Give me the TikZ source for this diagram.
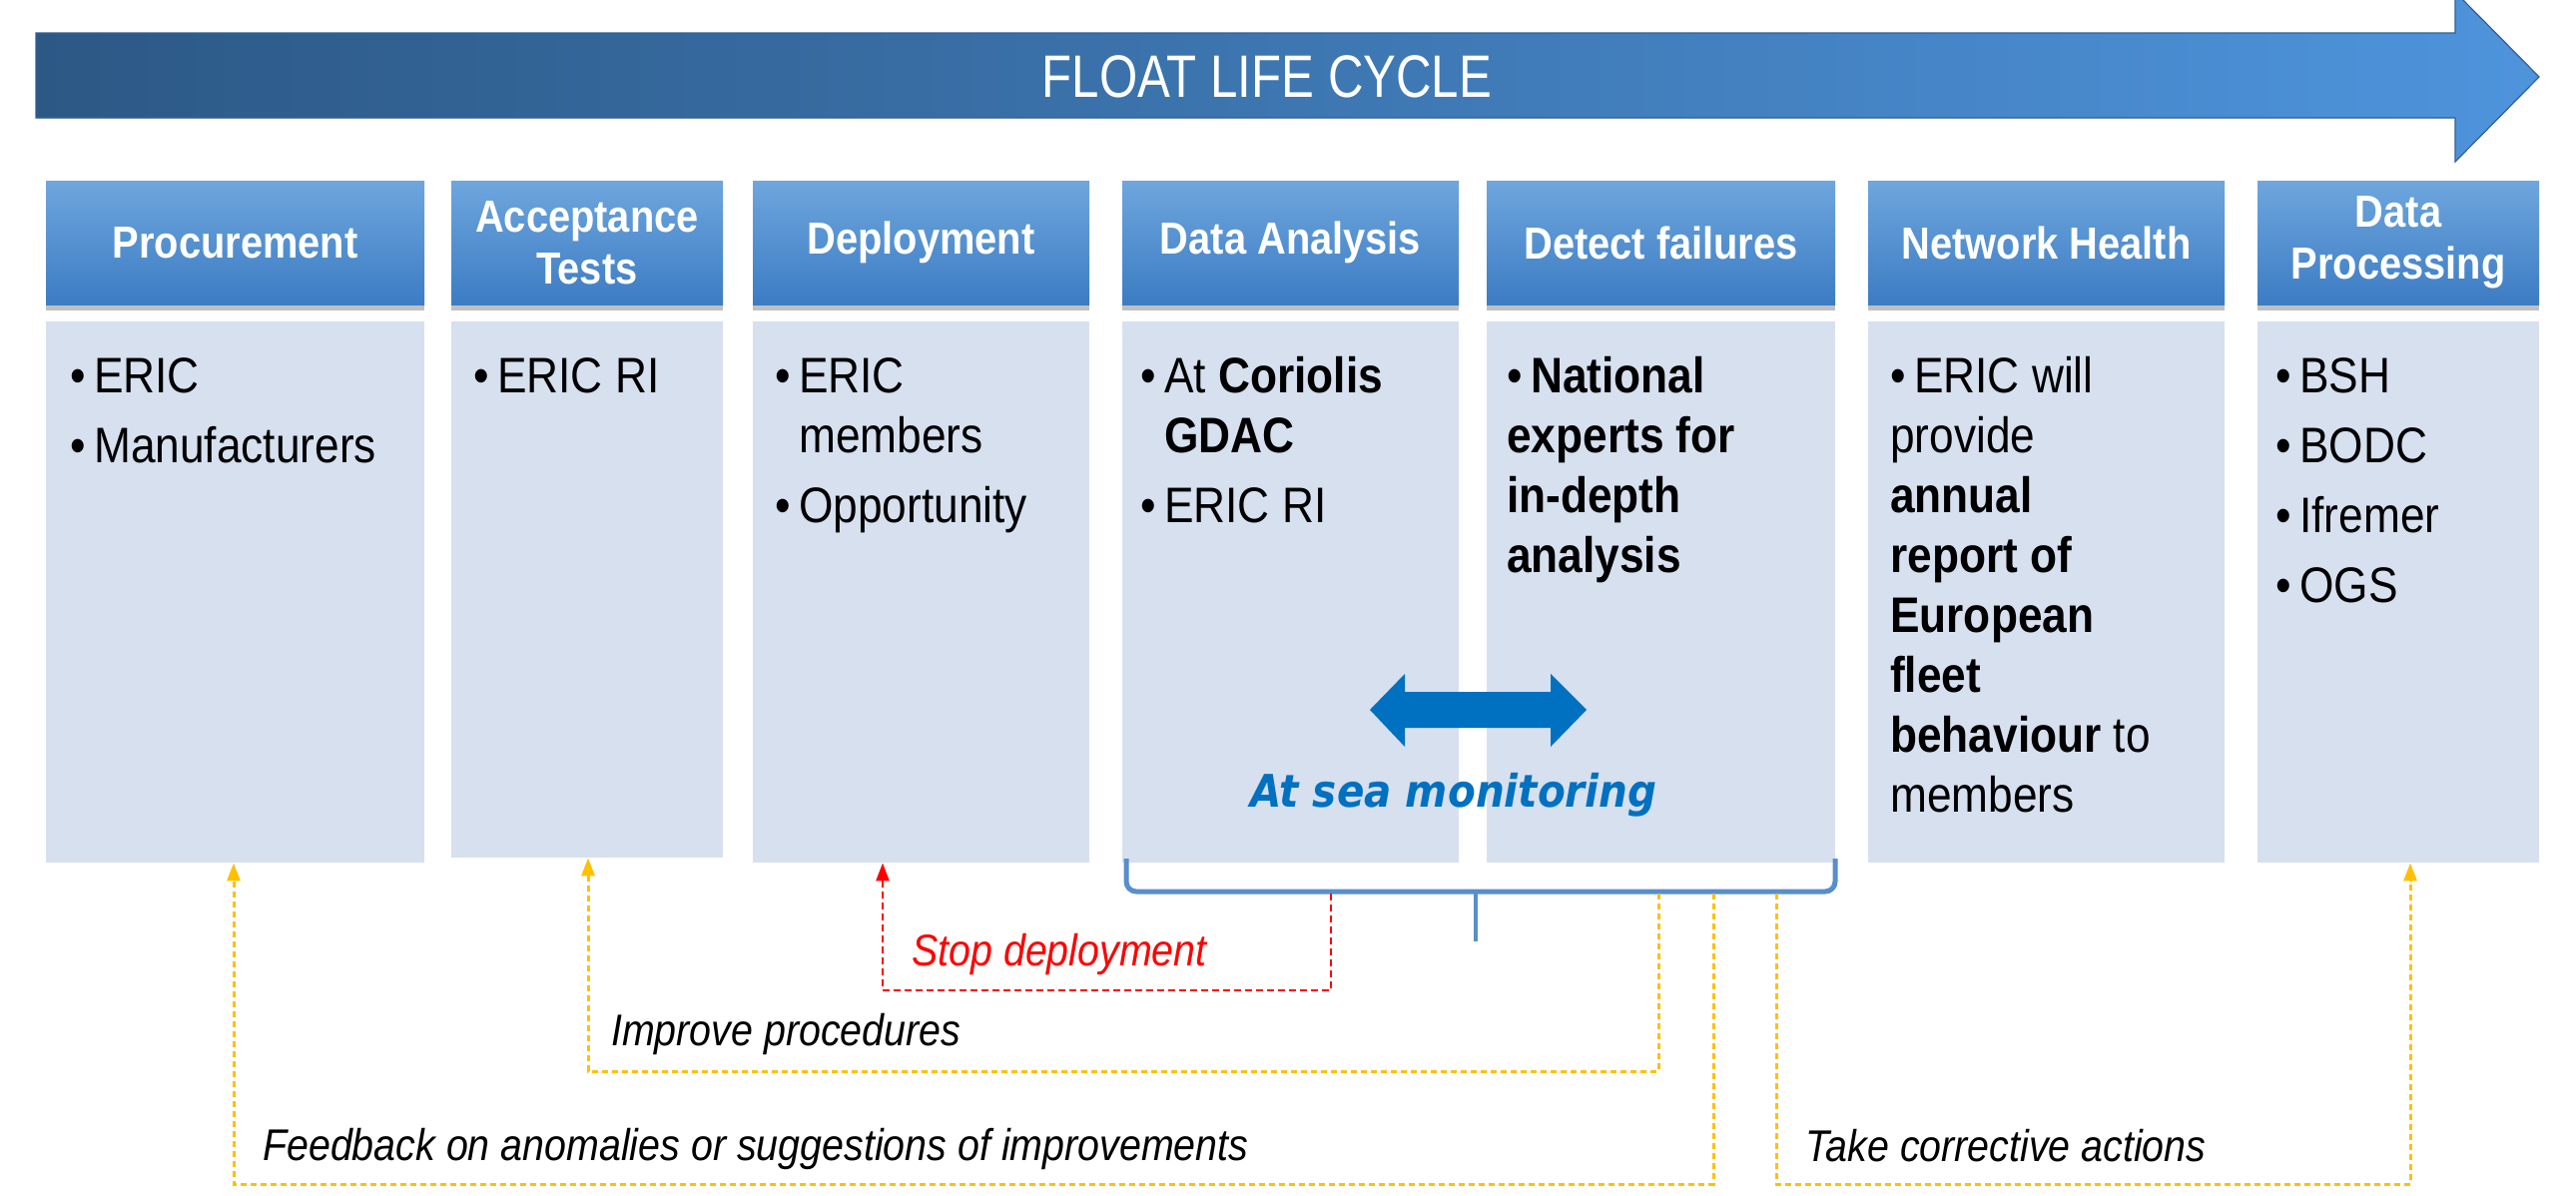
\documentclass[tikz,border=0pt]{standalone}
\usepackage{fontspec}
\setmainfont{Liberation Sans}[FakeStretch=0.885]
\newfontfamily\titlefont{Liberation Sans}[FakeStretch=0.82]
\newfontfamily\seafont{DejaVu Sans}[FakeStretch=0.9]
\usetikzlibrary{shadows,arrows.meta}
\definecolor{hdrtop}{RGB}{110,166,221}
\definecolor{hdrbot}{RGB}{60,124,196}
\definecolor{bodyfill}{RGB}{214,224,239}
\definecolor{arrL}{RGB}{44,88,133}
\definecolor{arrR}{RGB}{78,148,220}
\definecolor{arrEdge}{RGB}{52,96,145}
\definecolor{brk}{RGB}{88,142,204}
\definecolor{seablue}{RGB}{0,112,192}
\definecolor{fbyellow}{RGB}{255,192,0}
\newcommand{\bitem}[1]{\hangindent=24pt\hangafter=1\noindent\makebox[24pt][l]{\textbullet}\rule{0pt}{36pt}#1}
\tikzset{
  hdr/.style={rectangle, top color=hdrtop, bottom color=hdrbot, minimum height=124pt, inner sep=0pt,
    text=white, align=center, font=\fontsize{45}{52}\selectfont\bfseries,
    drop shadow={opacity=0.35, shadow xshift=0pt, shadow yshift=-6pt, fill=black!70}},
  bodybox/.style={rectangle, fill=bodyfill, inner sep=0pt, anchor=north west},
  bodytext/.style={anchor=north west, inner sep=0pt, text width=380pt, align=flush left,
    font=\fontsize{50}{60}\selectfont\setlength{\parskip}{10pt}},
  fb/.style={draw=fbyellow, line width=3pt, dash pattern=on 6pt off 4pt, -{Triangle[width=13pt,length=18pt]}},
  stopline/.style={draw=red, line width=2.5pt, dash pattern=on 7pt off 4pt, -{Triangle[width=13pt,length=18pt]}},
  lbl/.style={anchor=base west, inner sep=0pt, font=\fontsize{44.5}{52}\selectfont\itshape}
}
\begin{document}
\begin{tikzpicture}[x=1pt,y=-1pt]
\useasboundingbox (0,0) rectangle (2580,1197);
\fill[white] (0,0) rectangle (2580,1197);
% life cycle arrow
\fill[left color=arrL, right color=arrR, draw=arrEdge, line width=1.2pt]
  (36,33) -- (2459,33) -- (2459,-8) -- (2543,77) -- (2459,162) -- (2459,118) -- (36,118) -- cycle;
\node[inner sep=0pt, text=white, font=\titlefont\fontsize{60}{70}\selectfont] (title) at (1269,77) {FLOAT LIFE CYCLE};
% headers
\node[hdr, minimum width=379pt] (h1) at (235.5,243) {Procurement};
\node[hdr, minimum width=272pt] (h2) at (588,243) {Acceptance\\Tests};
\node[hdr, minimum width=337pt] (h3) at (922.5,243) {Deployment};
\node[hdr, minimum width=337pt] (h4) at (1292.5,243) {Data Analysis};
\node[hdr, minimum width=349pt] (h5) at (1663.5,243) {Detect failures};
\node[hdr, minimum width=357pt] (h6) at (2049.5,243) {Network Health};
\node[hdr, minimum width=282pt] (h7) at (2402,243) {Data\\Processing};
% bodies
\node[bodybox, minimum width=379pt, minimum height=542pt] (b1) at (46,322) {};
\node[bodybox, minimum width=272pt, minimum height=537pt] (b2) at (452,322) {};
\node[bodybox, minimum width=337pt, minimum height=542pt] (b3) at (754,322) {};
\node[bodybox, minimum width=337pt, minimum height=542pt] (b4) at (1124,322) {};
\node[bodybox, minimum width=349pt, minimum height=542pt] (b5) at (1489,322) {};
\node[bodybox, minimum width=357pt, minimum height=542pt] (b6) at (1871,322) {};
\node[bodybox, minimum width=282pt, minimum height=542pt] (b7) at (2261,322) {};
% body texts
\node[bodytext] (t1) at (70,357) {\bitem{ERIC}\par\bitem{Manufacturers}};
\node[bodytext] (t2) at (474,357) {\bitem{ERIC RI}};
\node[bodytext] (t3) at (776,357) {\bitem{ERIC\newline members}\par\bitem{Opportunity}};
\node[bodytext] (t4) at (1142,357) {\bitem{At \textbf{Coriolis}\newline \textbf{GDAC}}\par\bitem{ERIC RI}};
\node[bodytext] (t5) at (1509,357) {\bitem{\textbf{National\newline experts for\newline in-depth\newline analysis}}};
\node[bodytext] (t6) at (1893,357) {\bitem{ERIC will\newline provide\newline \textbf{annual}\newline \textbf{report of}\newline \textbf{European}\newline \textbf{fleet}\newline \textbf{behaviour} to\newline members}};
\node[bodytext] (t7) at (2279,357) {\bitem{BSH}\par\bitem{BODC}\par\bitem{Ifremer}\par\bitem{OGS}};
% at sea monitoring
\fill[seablue] (1372,711) -- (1407,675) -- (1407,693) -- (1553,693) -- (1553,675) -- (1589,711)
  -- (1553,748) -- (1553,729) -- (1407,729) -- (1407,748) -- cycle;
\node[anchor=base, inner sep=0pt, text=seablue, font=\seafont\fontsize{45}{52}\selectfont\bfseries\itshape] (sea) at (1456,808) {At sea monitoring};
% bracket
\draw[brk, line width=5pt, rounded corners=10pt] (1128,860) -- (1128,893) -- (1838,893) -- (1838,860);
\coordinate (brkC) at (1478,893);
\draw[brk, line width=3.5pt] (brkC) -- (1478,943);
% feedback connectors
\coordinate (sdA) at (1333,895);
\coordinate (sdB) at (884,992);
\draw[stopline] (sdA) |- (sdB) -- (b3.south -| sdB);
\coordinate (ipA) at (1661,895);
\coordinate (ipB) at (589,1073);
\draw[fb] (ipA) |- (ipB) -- (b2.south -| ipB);
\coordinate (fbA) at (1716,895);
\coordinate (fbB) at (234,1186);
\draw[fb] (fbA) |- (fbB) -- (b1.south -| fbB);
\coordinate (tcA) at (1779,895);
\coordinate (tcB) at (2414,1186);
\draw[fb] (tcA) |- (tcB) -- (b7.south -| tcB);
% labels
\node[lbl, text=red] (l1) at (913,967) {Stop deployment};
\node[lbl] (l2) at (612,1047) {Improve procedures};
\node[lbl] (l3) at (263,1162) {Feedback on anomalies or suggestions of improvements};
\node[lbl] (l4) at (1808,1163) {Take corrective actions};
\end{tikzpicture}
\end{document}
